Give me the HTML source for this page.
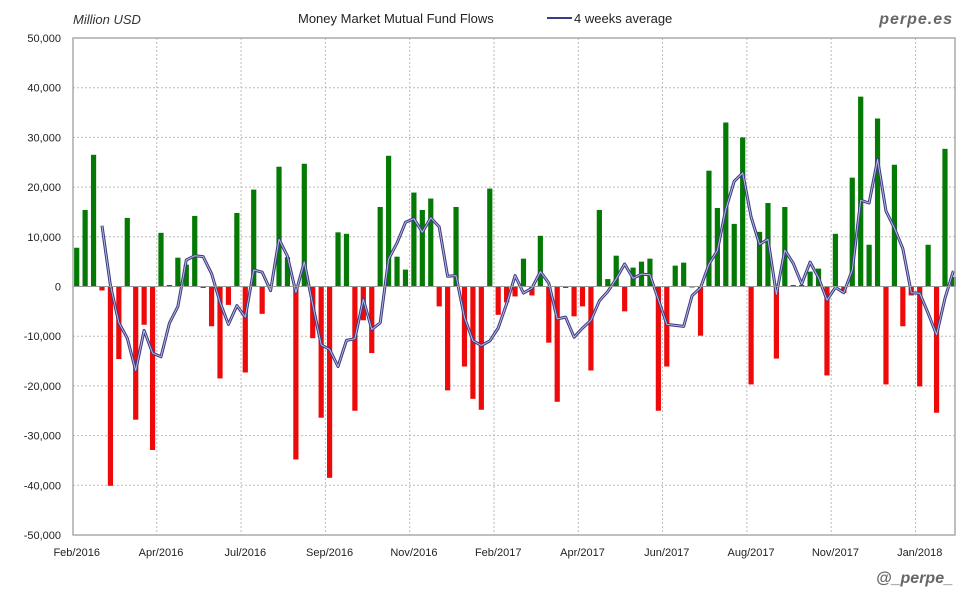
<!DOCTYPE html>
<html><head><meta charset="utf-8"><style>
html,body{margin:0;padding:0;background:#fff;}
svg{display:block;font-family:"Liberation Sans",sans-serif;}
</style></head><body>
<svg id="chart" width="980" height="600" viewBox="0 0 980 600">
<text x="73" y="24" font-size="13" font-style="italic" fill="#333">Million USD</text>
<text x="298" y="23" font-size="13" fill="#222">Money Market Mutual Fund Flows</text>
<g><line x1="547" y1="18" x2="572" y2="18" stroke="#3a3a8a" stroke-width="2"/><text x="574" y="23" font-size="13" fill="#222">4 weeks average</text></g>
<text x="953" y="24" font-size="16" font-weight="bold" font-style="italic" fill="#666" text-anchor="end" letter-spacing="1">perpe.es</text>
<text x="953" y="583" font-size="16" font-weight="bold" font-style="italic" fill="#666" text-anchor="end">@_perpe_</text>
<g id="grid"></g><g id="bars"></g><g id="avg"></g><g id="axes"></g>
</svg>
<script>
const values=[7800,15400,26500,-800,-40100,-14600,13800,-26800,-7700,-32900,
10800,300,5800,4400,14200,-300,-8000,-18500,-3700,14800,
-17300,19500,-5500,0,24100,5900,-34800,24700,-10400,-26400,
-38500,10900,10600,-25000,-6800,-13400,16000,26300,6000,3400,
18900,15400,17700,-4000,-20900,16000,-16100,-22600,-24800,19700,
-5700,-3200,-2000,5600,-1800,10200,-11300,-23200,-300,-6000,
-4000,-16900,15400,1500,6200,-5000,3800,5000,5600,-25000,
-16100,4200,4800,-200,-9900,23300,15800,33000,12600,30000,
-19700,11000,16800,-14500,16000,300,300,3000,3600,-17900,
10600,-1300,21900,38200,8400,33800,-19700,24500,-8000,-1800,
-20100,8400,-25400,27700,1900];
const yTicks=[50000,40000,30000,20000,10000,0,-10000,-20000,-30000,-40000,-50000];
const xLabels=["Feb/2016","Apr/2016","Jul/2016","Sep/2016","Nov/2016","Feb/2017","Apr/2017","Jun/2017","Aug/2017","Nov/2017","Jan/2018"];
const NS="http://www.w3.org/2000/svg";
const L=73,R=955,T=38,B=535,x0=76.7,step=8.43;
const y=v=>T+(50000-v)/100000*(B-T);
const x=i=>x0+i*step;
function mk(tag,attrs,parent){const e=document.createElementNS(NS,tag);for(const k in attrs)e.setAttribute(k,attrs[k]);parent.appendChild(e);return e;}
const grid=document.getElementById('grid'),bars=document.getElementById('bars'),avg=document.getElementById('avg'),axes=document.getElementById('axes');
yTicks.forEach(t=>{
 const l=mk('line',{x1:L,x2:R,y1:y(t),y2:y(t),stroke:'#bbb','stroke-dasharray':'2,2'},grid);
 
 
 const tx=mk('text',{x:L-12,y:y(t)+4,'font-size':11,'text-anchor':'end',fill:'#222'},axes);
 tx.textContent=t.toLocaleString('en-US');
 
 
});
xLabels.forEach((s,k)=>{
 const gx=x(k*10+9.5);
 if(gx<R){const g=mk('line',{x1:gx,x2:gx,y1:T,y2:B,stroke:'#bbb','stroke-dasharray':'2,2'},grid);
 
 }
 const tx=mk('text',{x:x(k*10),y:556,'font-size':11,'text-anchor':'middle',fill:'#222'},axes);
 tx.textContent=s;
 
 
});
values.forEach((v,i)=>{
 const top=Math.min(y(v),y(0)),h=Math.max(Math.abs(y(v)-y(0)),0.01);
 const r=mk('rect',{x:x(i)-2.6,y:top,width:5.2,height:h,fill:v>=0?'#047a04':'#ee0a0a'},bars);
 
 
});
const pts=[];
for(let i=3;i<values.length;i++){const m=(values[i]+values[i-1]+values[i-2]+values[i-3])/4;pts.push(x(i).toFixed(1)+','+y(m).toFixed(1));}
const p1=mk('polyline',{points:pts.join(' '),fill:'none',stroke:'#3a3a80','stroke-width':3,'stroke-linejoin':'round'},avg);


const p2=mk('polyline',{points:pts.join(' '),fill:'none',stroke:'#b8b8e0','stroke-width':1,'stroke-linejoin':'round'},avg);


const z=mk('line',{x1:L,x2:R,y1:y(0),y2:y(0),stroke:'#999','stroke-width':1},axes);


const fr=mk('rect',{x:L,y:T,width:R-L,height:B-T,fill:'none',stroke:'#aaa','stroke-width':1.5},axes);


</script>
</body></html>
